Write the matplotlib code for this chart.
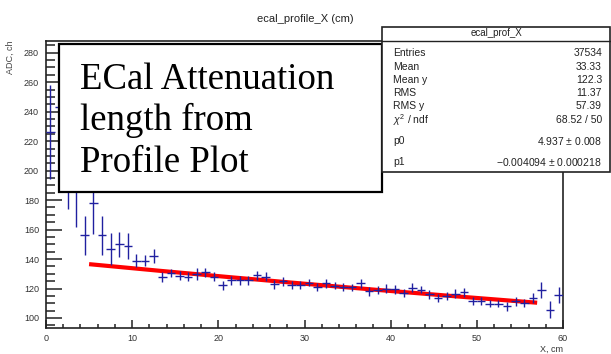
import numpy as np
import matplotlib
matplotlib.use('Agg')
import matplotlib.pyplot as plt
import matplotlib.patches as patches
from matplotlib.ticker import MultipleLocator

# profile bins (1 cm wide), mean ADC and error
bin_x = np.arange(0.5, 60, 1.0)
adc_mean = [226, 243, 212, 196, 156, 178, 156, 147, 150, 149,
            139, 139, 142, 128, 130.5, 128.8, 128, 130, 131, 128,
            122.3, 125.7, 125.7, 125.7, 129, 128, 123, 125, 122.3, 122.3,
            124, 121, 123.5, 122, 121, 120.7, 123.4, 118.2, 119, 120,
            119.5, 117, 120.4, 119.3, 116, 113.6, 114.8, 116.6, 117.3, 111.4,
            111.4, 109.8, 109.8, 108, 111.4, 110.2, 113.6, 118.8, 105.7, 115.4]
adc_err = [32, 30, 38, 34, 13.5, 21, 13, 11, 8.5, 9,
           4.5, 4, 4.5, 3.5, 3, 3, 3, 4, 3, 3,
           3, 3, 3, 3, 3, 3, 3, 3, 2.5, 2.5,
           2.5, 2.5, 3, 2.5, 2.5, 2.5, 3, 3, 3, 3,
           3, 3, 3, 2.5, 3, 2.5, 2.5, 3, 3, 2.5,
           2.5, 2.5, 2.5, 3, 3, 3, 3.5, 5.5, 5.5, 5.5]

# expo fit parameters and range
p0 = 4.937
p1 = -0.004094
fit_lo, fit_hi = 5, 57

stat_names = ['Entries', 'Mean', 'Mean y', 'RMS', 'RMS y',
              r'$\chi^2$ / ndf', 'p0', 'p1']
stat_values = ['37534', '33.33', '122.3', '11.37', '57.39',
               '68.52 / 50', '4.937 $\\pm$ 0.008',
               '\u22120.004094 $\\pm$ 0.000218']
note_lines = ['ECal Attenuation', 'length from', 'Profile Plot']

W, H = 611, 354
narrow = ['Liberation Sans Narrow', 'Liberation Sans', 'DejaVu Sans']
plt.rcParams['mathtext.fontset'] = 'custom'
plt.rcParams['mathtext.rm'] = 'Liberation Sans'
plt.rcParams['mathtext.it'] = 'Liberation Sans:italic'


def fx(px):
    return px / W


def fy(py):
    return 1 - py / H


fig = plt.figure(figsize=(W / 100, H / 100), dpi=100)
fig.patch.set_facecolor('white')
ax = fig.add_axes([fx(46), fy(328), fx(563) - fx(46), fy(40.5) - fy(328)])

xs = np.linspace(fit_lo, fit_hi, 200)
ax.plot(xs, np.exp(p0 + p1 * xs), color='red', lw=3.0, zorder=2,
        solid_capstyle='butt')
ax.errorbar(bin_x, adc_mean, yerr=adc_err, xerr=0.5, fmt='none',
            ecolor='#2020a0', elinewidth=1.0, capsize=0, zorder=3)

ax.set_xlim(0, 60)
ax.set_ylim(93.2, 288.3)
ax.xaxis.set_major_locator(MultipleLocator(10))
ax.xaxis.set_minor_locator(MultipleLocator(2))
ax.yaxis.set_major_locator(MultipleLocator(20))
ax.yaxis.set_minor_locator(MultipleLocator(5))
ax.tick_params(axis='both', which='both', direction='in', color='#222222',
               width=1.1, labelsize=6.5, top=False, right=False)
ax.tick_params(axis='y', which='major', length=11.5, pad=5)
ax.tick_params(axis='y', which='minor', length=6.5)
ax.tick_params(axis='x', which='major', length=5.8, pad=4)
ax.tick_params(axis='x', which='minor', length=2.9)
for lab in ax.get_xticklabels() + ax.get_yticklabels():
    lab.set_family(narrow)
    lab.set_color('#333333')
for s in ax.spines.values():
    s.set_linewidth(1.2)
    s.set_color('#222222')

fig.text(fx(305), fy(19), 'ecal_profile_X (cm)', ha='center', va='center',
         fontsize=8, family=narrow, color='#222222')
fig.text(fx(10), fy(40), 'ADC, ch', rotation=90, ha='center', va='top',
         fontsize=6.5, family=narrow, color='#444444')
fig.text(fx(563), fy(349.5), 'X, cm', ha='right', va='center',
         fontsize=6.5, family=narrow, color='#333333')

# text box with the annotation
fig.add_artist(patches.Rectangle((fx(59.3), fy(192.5)), fx(381.7) - fx(59.3),
                                 fy(43.5) - fy(192.5), transform=fig.transFigure,
                                 facecolor='white', edgecolor='black', lw=1.6,
                                 zorder=5))
for line, base in zip(note_lines, [89.3, 130.5, 171.5]):
    fig.text(fx(80), fy(base), line, ha='left', va='baseline', fontsize=26.5,
             family='Liberation Serif', color='black', zorder=6)

# stats box
fig.add_artist(patches.Rectangle((fx(382), fy(171.7)), fx(609.5) - fx(382),
                                 fy(26.7) - fy(171.7), transform=fig.transFigure,
                                 facecolor='white', edgecolor='#222222', lw=1.2,
                                 zorder=5))
fig.add_artist(plt.Line2D([fx(382), fx(609.5)], [fy(40.7), fy(40.7)],
                          transform=fig.transFigure, color='#222222', lw=1.0,
                          zorder=6))
fig.text(fx(496.7), fy(33.5), 'ecal_prof_X', ha='center', va='center',
         fontsize=7, family=narrow, color='#222222', zorder=6)
for name, val, row in zip(stat_names, stat_values,
                          [52.5, 67, 80, 93, 106, 120, 141, 162]):
    fig.text(fx(393), fy(row), name, ha='left', va='center', fontsize=7.5,
             family=narrow, color='#222222', zorder=6)
    fig.text(fx(602), fy(row), val, ha='right', va='center', fontsize=7.5,
             family=narrow, color='#222222', zorder=6)

plt.savefig('out.png', dpi=100)
